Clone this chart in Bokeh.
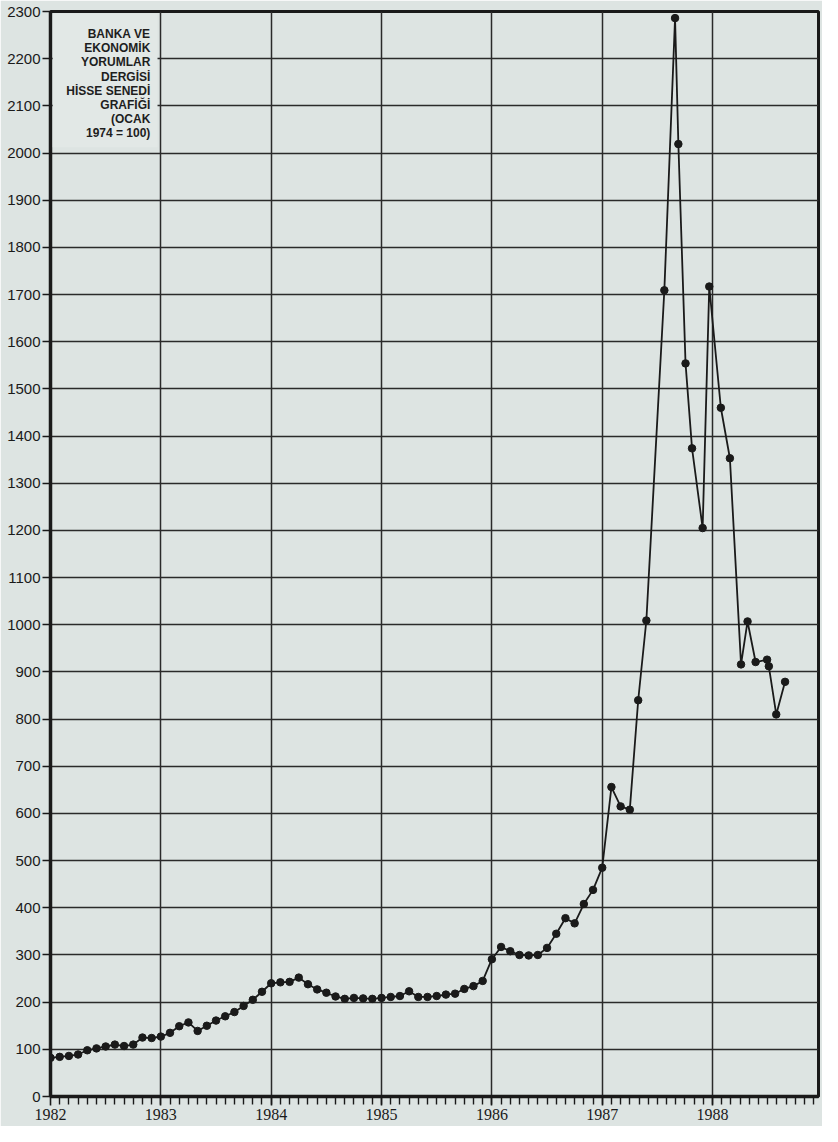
from bokeh.plotting import figure
from bokeh.models import FixedTicker, Range1d, Label, BoxAnnotation, ColumnDataSource
from bokeh.embed import file_html
from bokeh.resources import INLINE

# ---- data -------------------------------------------------------------
# Monthly index values, January 1982 .. April 1987
monthly_start = 1982
monthly_values = [
    82, 84, 86, 89, 98, 102, 106, 110, 107, 110, 125, 124,      # 1982
    127, 135, 149, 157, 139, 150, 161, 170, 179, 192, 205, 222,  # 1983
    240, 242, 243, 252, 238, 227, 220, 212, 207, 209, 208, 207,  # 1984
    209, 211, 213, 223, 211, 211, 213, 216, 218, 228, 234, 245,  # 1985
    291, 317, 308, 300, 299, 300, 315, 345, 378, 367, 408, 438,  # 1986
    485, 656, 615, 608,                                          # 1987
]
# Irregularly dated readings, 1987-1988 (decimal years)
late_dates = [1987.326, 1987.40, 1987.563, 1987.66, 1987.69, 1987.755,
              1987.814, 1987.91, 1987.97, 1988.075, 1988.157, 1988.258,
              1988.317, 1988.39, 1988.494, 1988.51, 1988.577, 1988.657]
late_values = [840, 1009, 1709, 2286, 2019, 1554,
               1374, 1205, 1717, 1460, 1353, 916,
               1007, 921, 926, 912, 810, 879]

year_ticks = [1982, 1983, 1984, 1985, 1986, 1987, 1988]
year_labels = ["1982", "1983", "1984", "1985", "1986", "1987", "1988"]
y_ticks = list(range(0, 2301, 100))

title_lines = ["BANKA VE", "EKONOMİK", "YORUMLAR", "DERGİSİ",
               "HİSSE SENEDİ", "GRAFİĞİ", "(OCAK", "1974 = 100)"]

# ---- build ------------------------------------------------------------
xs = [monthly_start + i / 12 for i in range(len(monthly_values))] + late_dates
ys = monthly_values + late_values
src = ColumnDataSource(dict(x=xs, y=ys))

paper = "#dde4e2"
ink = "#1a1a1a"

p = figure(width=822, height=1126, output_backend="svg", toolbar_location=None,
           x_range=Range1d(1982, 1988.96), y_range=Range1d(0, 2300),
           min_border_left=50, min_border_right=4, min_border_top=11,
           min_border_bottom=30)
p.background_fill_color = paper
p.border_fill_color = paper
p.outline_line_color = ink
p.outline_line_width = 3

months = [1982 + m / 12 for m in range(1, 84) if 1982 + m / 12 < 1988.96]

p.xaxis.ticker = FixedTicker(ticks=year_ticks, minor_ticks=months)
p.xaxis.major_label_overrides = {t: l for t, l in zip(year_ticks, year_labels)}
p.yaxis.ticker = FixedTicker(ticks=y_ticks, minor_ticks=[])
p.yaxis.major_label_overrides = {t: str(t) for t in y_ticks}

for ax in (p.xaxis[0], p.yaxis[0]):
    ax.axis_line_color = ink
    ax.axis_line_width = 3.5
    ax.major_tick_line_color = ink
    ax.major_tick_line_width = 1.6
    ax.minor_tick_line_color = ink
    ax.minor_tick_line_width = 1.4
    ax.major_tick_in = 0
    ax.minor_tick_in = 0
    ax.major_label_text_color = "#1a1a1a"

p.xaxis.major_tick_out = 9
p.xaxis.minor_tick_out = 8
p.xaxis.major_label_standoff = 3
p.xaxis.major_label_text_font = "Liberation Serif"
p.xaxis.major_label_text_font_size = "16px"

p.yaxis.major_tick_out = 8
p.yaxis.major_label_standoff = 2
p.yaxis.major_label_text_font = "Liberation Sans"
p.yaxis.major_label_text_font_size = "15px"

p.xgrid.ticker = FixedTicker(ticks=year_ticks)
p.ygrid.ticker = FixedTicker(ticks=y_ticks)
for g in (p.xgrid[0], p.ygrid[0]):
    g.grid_line_color = "#2a2a2a"
    g.grid_line_width = 1.5

# title box covering grid in top-left
p.add_layout(BoxAnnotation(left=1982.02, right=1982.97, bottom=2012, top=2296,
                           fill_color="#e2e8e6", fill_alpha=1.0, line_alpha=0))

for i, t in enumerate(title_lines):
    p.add_layout(Label(x=1982.905, y=2252 - 30 * i, text=t,
                       text_align="right", text_baseline="middle",
                       text_font="Liberation Sans", text_font_style="bold",
                       text_font_size="12px", text_color="#1e1e1e"))

p.line("x", "y", source=src, line_color=ink, line_width=1.8)
p.scatter("x", "y", source=src, size=7.5, fill_color=ink, line_color=ink)

open("out.html", "w").write(file_html(p, INLINE))
